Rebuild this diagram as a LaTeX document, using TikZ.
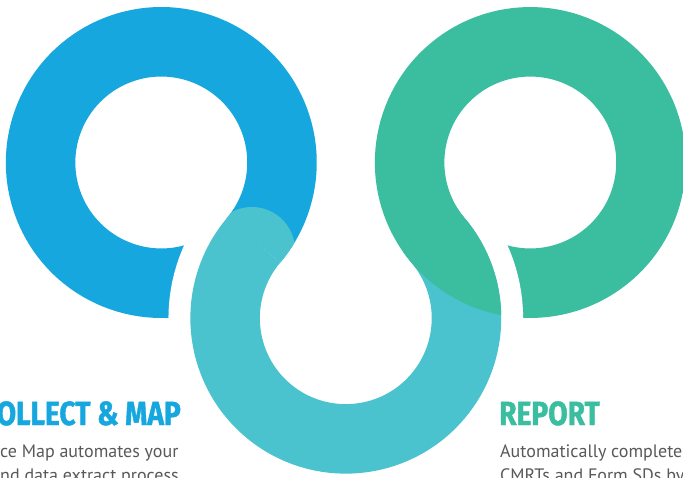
\documentclass[tikz,border=0pt]{standalone}
\usepackage{fontspec}
\setmainfont{PT Sans}
\newfontfamily\titlefont{Fira Sans}[FakeStretch=0.84,FakeBold=1.2]
\definecolor{blueC}{HTML}{17A7DF}
\definecolor{cyanC}{HTML}{4BC3CF}
\definecolor{greenC}{HTML}{3BBEA0}
\definecolor{textC}{HTML}{58595B}
\tikzset{
  band/.style={line width=69.5pt, line cap=butt},
  bandB/.style={band, draw=blueC},
  bandC/.style={band, draw=cyanC},
  bandG/.style={band, draw=greenC},
  halo/.style={line width=113.2pt, line cap=butt, draw=white},
  title/.style={inner sep=0pt, font=\titlefont\bfseries\fontsize{33.5}{36}\selectfont},
  body/.style={inner sep=0pt, text=textC, font=\fontsize{18}{22}\selectfont},
}
\def\R{120.7}
\begin{document}
\begin{tikzpicture}[x=1pt,y=1pt]
\useasboundingbox (0,0) rectangle (683,477);
\fill[white] (0,0) rectangle (683,477);
\clip (0,0) rectangle (683,477);
\coordinate (B) at (161.3,314.5);
\coordinate (G) at (530.3,314.5);
\coordinate (C) at (345.8,158.8);
\coordinate (cap) at (251.9,226.9);
% blue ring
\draw[bandB] (B) ++(290:\R) arc[start angle=290, end angle=-40.16, radius=\R];
% green ring
\draw[bandG] (G) ++(220.16:\R) arc[start angle=220.16, end angle=-120, radius=\R];
% white halo of the lower ring
\draw[halo] (C) ++(148:\R) arc[start angle=148, end angle=400.16, radius=\R];
% lower ring
\draw[bandC] (C) ++(139.84:\R) arc[start angle=139.84, end angle=400.16, radius=\R];
\begin{scope}
  \clip (cap) circle (43.1);
  \draw[bandC] (B) ++(-40.16:\R) arc[start angle=-40.16, end angle=0, radius=\R];
\end{scope}
% green tail over the lower ring
\begin{scope}
  \clip (C) circle (155.45);
  \draw[bandG] (G) ++(215:\R) arc[start angle=215, end angle=275, radius=\R];
\end{scope}
% texts
\node[title, text=blueC, anchor=base east] (t1) at (181,52) {COLLECT \& MAP};
\node[body, anchor=base west] (b1) at (0,19.3) {ce Map automates your};
\node[body, anchor=base west] (b2) at (0,-4) {nd data extract process};
\node[title, text=greenC, anchor=base west] (t2) at (499,52) {REPORT};
\node[body, anchor=base west] (b3) at (500,19.3) {Automatically complete};
\node[body, anchor=base west] (b4) at (500,-4) {CMRTs and Form SDs by};
\end{tikzpicture}
\end{document}
